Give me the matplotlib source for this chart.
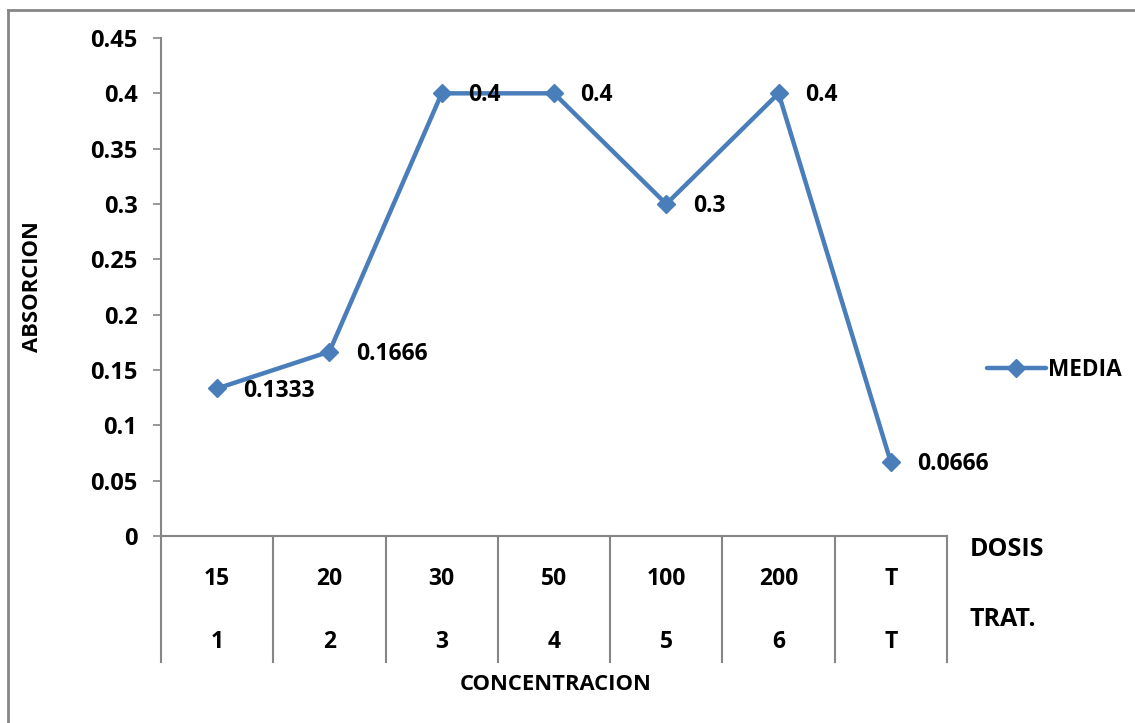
import matplotlib.pyplot as plt
from matplotlib.lines import Line2D

plt.rcParams['font.family'] = ['Open Sans', 'DejaVu Sans']
plt.rcParams['font.weight'] = 'bold'

dosis = ['15', '20', '30', '50', '100', '200', 'T']
trat = ['1', '2', '3', '4', '5', '6', 'T']
media = [0.1333, 0.1666, 0.4, 0.4, 0.3, 0.4, 0.0666]

blue = '#4a7ebb'
grey = '#868686'

fig = plt.figure(figsize=(11.35, 7.23), dpi=100)
ax = fig.add_axes([161 / 1135, 1 - 536 / 723, 786 / 1135, 498 / 723])

x = list(range(len(media)))
ax.plot(x, media, color=blue, lw=3.2, marker='D', ms=9, label='MEDIA',
        solid_joinstyle='round', solid_capstyle='round')
for xi, v in zip(x, media):
    ax.annotate(f'{v:g}', (xi, v), xytext=(19, -1.5), textcoords='offset points',
                va='center', ha='left', fontsize=16.5, fontweight='bold')

ax.set_xlim(-0.5, len(media) - 0.5)
ax.set_ylim(0, 0.45)
ax.set_yticks([i * 0.05 for i in range(10)])
ax.set_yticklabels(['0'] + [f'{i * 0.05:g}' for i in range(1, 10)])
ax.tick_params(axis='y', labelsize=17, length=6, color=grey, width=1.2, pad=11)
ax.tick_params(axis='x', bottom=False, labelbottom=False)
for s in ['top', 'right']:
    ax.spines[s].set_visible(False)
for s in ['left', 'bottom']:
    ax.spines[s].set_color(grey)
    ax.spines[s].set_linewidth(1.5)

# two-level category axis drawn under the plot
tr = ax.get_xaxis_transform()
for i in range(len(media) + 1):
    ax.add_line(Line2D([i - 0.5, i - 0.5], [0, -0.253], transform=tr,
                       color=grey, lw=1.5, clip_on=False))
for xi, d, t in zip(x, dosis, trat):
    ax.text(xi, -0.086, d, transform=tr, ha='center', va='center', fontsize=16.5)
    ax.text(xi, -0.212, t, transform=tr, ha='center', va='center', fontsize=16.5)
ax.text(970 / 1135, 1 - 550 / 723, 'DOSIS', transform=fig.transFigure,
        ha='left', va='center', fontsize=18)
ax.text(970 / 1135, 1 - 620 / 723, 'TRAT.', transform=fig.transFigure,
        ha='left', va='center', fontsize=18)

fig.text(556 / 1135, 1 - 685 / 723, 'CONCENTRACION', ha='center', va='center',
         fontsize=15.8)
fig.text(33 / 1135, 1 - 287 / 723, 'ABSORCION', ha='center', va='center',
         rotation=90, fontsize=15.8)

fig.legend(loc='center left', bbox_to_anchor=(978 / 1135, 1 - 370 / 723),
           frameon=False, fontsize=16.3, handlelength=2.6, handletextpad=0.1,
           borderaxespad=0)

# outer chart border
fig.add_artist(Line2D([8 / 1135, 8 / 1135], [0, 1 - 10 / 723],
                      transform=fig.transFigure, color=grey, lw=2))
fig.add_artist(Line2D([8 / 1135, 1], [1 - 10 / 723, 1 - 10 / 723],
                      transform=fig.transFigure, color=grey, lw=2))

fig.savefig('out.png', dpi=100)
